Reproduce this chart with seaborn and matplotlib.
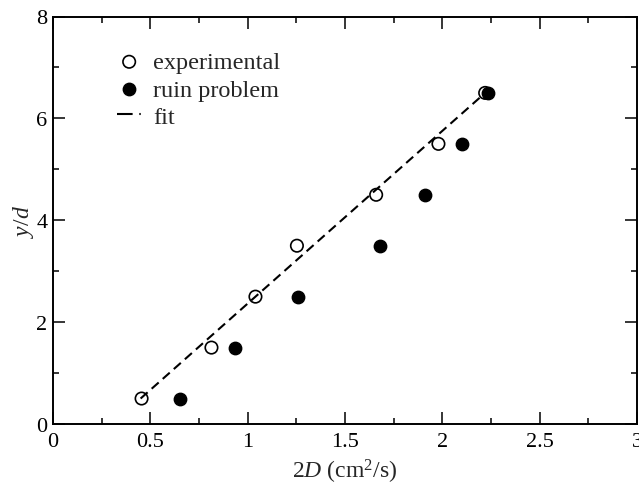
import matplotlib
matplotlib.use("Agg")
import matplotlib.pyplot as plt
import seaborn as sns
import pandas as pd
from matplotlib.ticker import MultipleLocator, FuncFormatter

# data
exp_x = [0.455, 0.814, 1.04, 1.253, 1.66, 1.98, 2.22]
exp_y = [0.5, 1.5, 2.5, 3.5, 4.5, 5.5, 6.5]
ruin_x = [0.65, 0.937, 1.258, 1.68, 1.911, 2.10, 2.235]
ruin_y = [0.5, 1.5, 2.5, 3.5, 4.5, 5.5, 6.5]
fit_x = [0.45, 2.22]
fit_y = [0.5, 6.5]

sns.set_style("ticks")
plt.rcParams['font.family'] = ['Liberation Serif', 'DejaVu Serif']
plt.rcParams['mathtext.fontset'] = 'custom'
plt.rcParams['mathtext.rm'] = 'Liberation Serif'
plt.rcParams['mathtext.it'] = 'Liberation Serif:italic'

fig = plt.figure(figsize=(6.39, 4.85), dpi=100)
ax = fig.add_axes([53/639, 60/485, 584/639, 407.5/485])

df_exp = pd.DataFrame({"x": exp_x, "y": exp_y})
df_ruin = pd.DataFrame({"x": ruin_x, "y": ruin_y})
df_fit = pd.DataFrame({"x": fit_x, "y": fit_y})

sns.lineplot(data=df_fit, x="x", y="y", ax=ax, color="black", lw=1.5,
             label="fit", zorder=1)
ax.lines[0].set_linestyle((0, (4.5, 2.6)))

sns.scatterplot(data=df_exp, x="x", y="y", ax=ax, color="white", edgecolor="black",
                linewidth=1.2, s=80, label="experimental", zorder=3)
ax.collections[-1].set_facecolor("none")
sns.scatterplot(data=df_ruin, x="x", y="y", ax=ax, color="black", edgecolor="black",
                linewidth=1.0, s=80, label="ruin problem", zorder=3)

ax.set_xlim(0, 3)
ax.set_ylim(0, 8)
ax.xaxis.set_major_locator(MultipleLocator(0.5))
ax.xaxis.set_minor_locator(MultipleLocator(0.25))
ax.yaxis.set_major_locator(MultipleLocator(2))
ax.yaxis.set_minor_locator(MultipleLocator(1))
fmt = FuncFormatter(lambda v, pos: "%g" % v)
ax.xaxis.set_major_formatter(fmt)
ax.yaxis.set_major_formatter(fmt)

ax.tick_params(which="both", direction="in", top=True, right=True, width=1.1,
               labelsize=16, colors="black")
ax.tick_params(which="major", length=8.5)
ax.tick_params(axis="x", which="major", pad=5.5)
ax.tick_params(axis="y", which="major", pad=4)
ax.tick_params(which="minor", length=4.5)
for s in ax.spines.values():
    s.set_linewidth(1.4)
    s.set_color("black")

ax.set_xlabel(r"$\mathrm{2}\mathit{D}$ (cm$^2$/s)", fontsize=17, labelpad=4.5)
ax.set_ylabel(r"$\mathit{y/d}$", fontsize=17, labelpad=0.5)

handles, labels = ax.get_legend_handles_labels()
order = [labels.index("experimental"), labels.index("ruin problem"), labels.index("fit")]
leg = ax.legend([handles[i] for i in order], [labels[i] for i in order],
                loc="upper left", bbox_to_anchor=(0.1096, 0.915), frameon=False,
                fontsize=17.5, handlelength=1.0, handletextpad=0.48, labelspacing=0.22,
                borderaxespad=0, borderpad=0)
leg.get_lines()[0].set_linestyle((0, (7.5, 3.2, 0.7, 20)))

fig.savefig("out.png", dpi=100)
